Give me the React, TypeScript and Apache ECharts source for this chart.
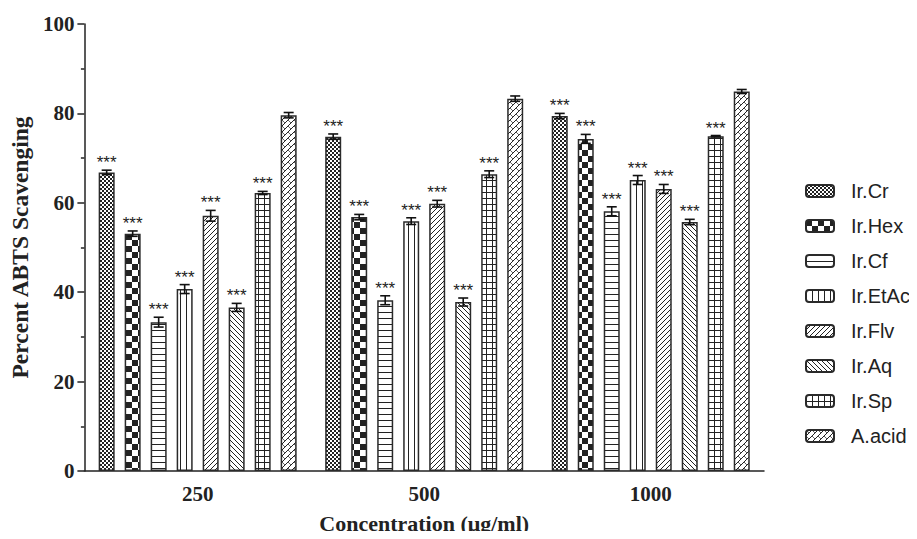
import React, { useEffect, useRef } from "react";
import * as echarts from "echarts";

const categories = ["250", "500", "1000"];
const seriesNames = ["Ir.Cr", "Ir.Hex", "Ir.Cf", "Ir.EtAc", "Ir.Flv", "Ir.Aq", "Ir.Sp", "A.acid"];

const crValues = [66.8, 74.8, 79.4];
const hexValues = [53.1, 56.8, 74.3];
const cfValues = [33.3, 38.2, 58.1];
const etacValues = [40.7, 55.9, 65.1];
const flvValues = [57.1, 59.8, 63.1];
const aqValues = [36.6, 37.8, 55.7];
const spValues = [62.2, 66.4, 74.9];
const aacidValues = [79.6, 83.3, 84.9];

const crErr = [0.5, 0.6, 0.6];
const hexErr = [0.6, 0.6, 1.0];
const cfErr = [1.1, 1.0, 1.0];
const etacErr = [1.0, 0.75, 1.0];
const flvErr = [1.2, 0.75, 1.0];
const aqErr = [0.9, 0.9, 0.6];
const spErr = [0.35, 0.75, 0.15];
const aacidErr = [0.6, 0.6, 0.45];

const significance = ["***", "***", "***", "***", "***", "***", "***", ""];

const allValues = [crValues, hexValues, cfValues, etacValues, flvValues, aqValues, spValues, aacidValues];
const allErrors = [crErr, hexErr, cfErr, etacErr, flvErr, aqErr, spErr, aacidErr];

const INK = "#222";

function makeCanvas(w: number, h: number, draw: (ctx: CanvasRenderingContext2D) => void) {
  const c = document.createElement("canvas");
  c.width = w;
  c.height = h;
  const ctx = c.getContext("2d")!;
  ctx.fillStyle = "#fff";
  ctx.fillRect(0, 0, w, h);
  ctx.fillStyle = INK;
  ctx.strokeStyle = INK;
  draw(ctx);
  return { image: c, repeat: "repeat", imageWidth: w, imageHeight: h };
}

function buildPatterns() {
  const fineChecker = makeCanvas(4, 4, (ctx) => {
    ctx.fillRect(0, 0, 2, 2);
    ctx.fillRect(2, 2, 2, 2);
  });
  const bigChecker = makeCanvas(12, 12, (ctx) => {
    ctx.fillRect(0, 0, 6, 6);
    ctx.fillRect(6, 6, 6, 6);
  });
  const hLines = makeCanvas(6, 6, (ctx) => {
    ctx.fillRect(0, 0, 6, 1);
  });
  const vLines = makeCanvas(6, 6, (ctx) => {
    ctx.fillRect(0, 0, 1, 6);
  });
  const fwdDiag = makeCanvas(5, 5, (ctx) => {
    ctx.lineWidth = 1;
    ctx.beginPath();
    ctx.moveTo(-1, 6);
    ctx.lineTo(6, -1);
    ctx.moveTo(-1, 1);
    ctx.lineTo(1, -1);
    ctx.moveTo(4, 6);
    ctx.lineTo(6, 4);
    ctx.stroke();
  });
  const backDiag = makeCanvas(5, 5, (ctx) => {
    ctx.lineWidth = 1;
    ctx.beginPath();
    ctx.moveTo(-1, -1);
    ctx.lineTo(6, 6);
    ctx.moveTo(4, -1);
    ctx.lineTo(6, 1);
    ctx.moveTo(-1, 4);
    ctx.lineTo(1, 6);
    ctx.stroke();
  });
  const grid = makeCanvas(6, 6, (ctx) => {
    ctx.fillRect(0, 0, 6, 1);
    ctx.fillRect(0, 0, 1, 6);
  });
  const zigzag = makeCanvas(6, 6, (ctx) => {
    ctx.lineWidth = 1;
    ctx.beginPath();
    ctx.moveTo(-1, 7);
    ctx.lineTo(7, -1);
    ctx.moveTo(-1, 1);
    ctx.lineTo(1, -1);
    ctx.moveTo(5, 7);
    ctx.lineTo(7, 5);
    ctx.stroke();
    ctx.globalAlpha = 0.7;
    ctx.beginPath();
    ctx.moveTo(0, 0);
    ctx.lineTo(3, 3);
    ctx.stroke();
  });
  return [fineChecker, bigChecker, hLines, vLines, fwdDiag, backDiag, grid, zigzag];
}

const BAR_W = 16;
const BAR_GAP = 0.625;

export default function App() {
  const ref = useRef<HTMLDivElement>(null);

  useEffect(() => {
    if (!ref.current) return;
    const chart = echarts.init(ref.current, null, { renderer: "svg" });
    const patterns = buildPatterns();
    const n = seriesNames.length;
    const pitch = BAR_W * (1 + BAR_GAP);
    const total = n * pitch - BAR_W * BAR_GAP;

    const barSeries = seriesNames.map((name, i) => ({
      name,
      type: "bar",
      data: allValues[i],
      barWidth: BAR_W,
      barGap: `${BAR_GAP * 100}%`,
      itemStyle: {
        color: patterns[i],
        borderColor: "#2a2a2a",
        borderWidth: 1.5,
      },
    }));

    const errData: number[][] = [];
    seriesNames.forEach((_, si) => {
      categories.forEach((_, ci) => {
        errData.push([ci, si, allValues[si][ci], allErrors[si][ci]]);
      });
    });

    const errSeries = {
      type: "custom",
      z: 10,
      silent: true,
      encode: { x: 0, y: 2 },
      data: errData,
      renderItem: (params: any, api: any) => {
        const ci = api.value(0);
        const si = api.value(1);
        const v = api.value(2);
        const e = api.value(3);
        const center = api.coord([ci, v]);
        const top = api.coord([ci, v + e]);
        const bot = api.coord([ci, v - e]);
        const x = center[0] - total / 2 + si * pitch + BAR_W / 2;
        const cap = 5;
        const style = { stroke: "#111", lineWidth: 1.6 };
        const children: any[] = [
          { type: "line", shape: { x1: x, y1: top[1], x2: x, y2: bot[1] }, style },
          { type: "line", shape: { x1: x - cap, y1: top[1], x2: x + cap, y2: top[1] }, style },
          { type: "line", shape: { x1: x - cap, y1: bot[1], x2: x + cap, y2: bot[1] }, style },
        ];
        const sig = significance[si];
        if (sig) {
          children.push({
            type: "text",
            style: {
              text: sig,
              x,
              y: top[1] + 1,
              align: "center",
              verticalAlign: "bottom",
              fontSize: 17,
              fontFamily: "Liberation Sans",
              fill: "#222",
            },
          });
        }
        return { type: "group", children };
      },
    };

    chart.setOption({
      animation: false,
      backgroundColor: "#fff",
      grid: { left: 82, right: 153, top: 24, bottom: 64, containLabel: false },
      legend: {
        data: seriesNames,
        orient: "vertical",
        left: 805,
        top: 181,
        padding: 0,
        itemWidth: 28,
        itemHeight: 12,
        itemGap: 15,
        align: "left",
        textStyle: {
          fontFamily: "Liberation Sans",
          fontSize: 20,
          color: "#222",
          padding: [0, 0, 0, 12],
        },
      },
      xAxis: {
        type: "category",
        data: categories,
        name: "Concentration (μg/ml)",
        nameLocation: "middle",
        nameGap: 41,
        nameTextStyle: {
          fontFamily: "Liberation Serif",
          fontWeight: "bold",
          fontSize: 22,
          color: "#222",
        },
        axisLine: { lineStyle: { color: "#222", width: 1.5 } },
        axisTick: { alignWithLabel: true, length: 7, lineStyle: { color: "#222", width: 1.5 } },
        axisLabel: {
          fontFamily: "Liberation Serif",
          fontWeight: "bold",
          fontSize: 21,
          color: "#222",
          margin: 12,
        },
        splitLine: { show: false },
      },
      yAxis: {
        type: "value",
        min: 0,
        max: 100,
        interval: 20,
        name: "Percent ABTS Scavenging",
        nameLocation: "middle",
        nameGap: 50,
        nameTextStyle: {
          fontFamily: "Liberation Serif",
          fontWeight: "bold",
          fontSize: 23.5,
          color: "#222",
        },
        axisLine: { show: true, lineStyle: { color: "#222", width: 1.5 } },
        axisTick: { show: true, length: 7, lineStyle: { color: "#222", width: 1.5 } },
        minorTick: { show: true, splitNumber: 2, length: 3.5, lineStyle: { color: "#222", width: 1.5 } },
        axisLabel: {
          fontFamily: "Liberation Serif",
          fontWeight: "bold",
          fontSize: 21,
          color: "#222",
          margin: 10,
        },
        splitLine: { show: false },
      },
      series: [...barSeries, errSeries],
    });

    return () => chart.dispose();
  }, []);

  return <div ref={ref} style={{ width: 917, height: 539, margin: -8 }} />;
}
